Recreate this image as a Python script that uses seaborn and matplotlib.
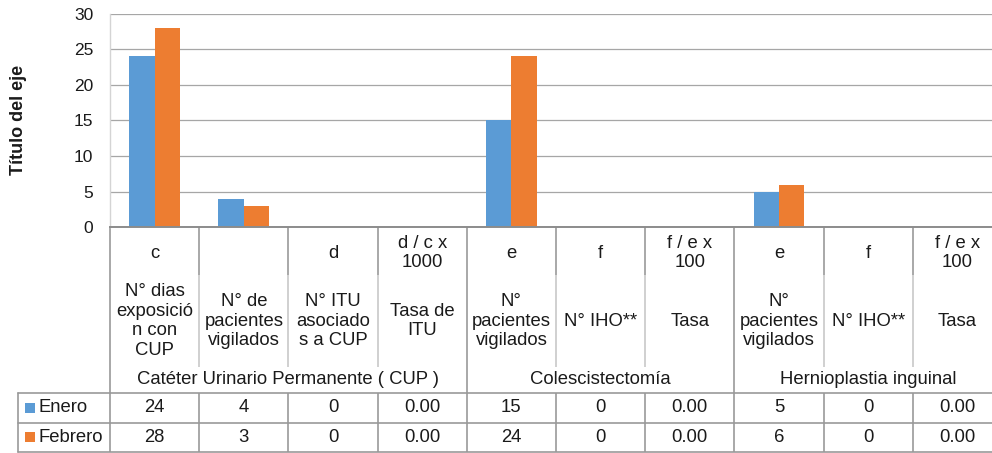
import numpy as np
import pandas as pd
import matplotlib
matplotlib.use('Agg')
import matplotlib.pyplot as plt
import seaborn as sns
from matplotlib.transforms import blended_transform_factory
from matplotlib.patches import Rectangle

sns.set_theme(style='white')
plt.rcParams['font.family'] = ['Liberation Sans', 'DejaVu Sans']

codes = ['c', '', 'd', 'd / c x\n1000', 'e', 'f', 'f / e x\n100', 'e', 'f', 'f / e x\n100']
descs = ['N° dias\nexposició\nn con\nCUP', 'N° de\npacientes\nvigilados', 'N° ITU\nasociado\ns a CUP',
         'Tasa de\nITU', 'N°\npacientes\nvigilados', 'N° IHO**', 'Tasa',
         'N°\npacientes\nvigilados', 'N° IHO**', 'Tasa']
groups = ['Catéter Urinario Permanente ( CUP )', 'Colescistectomía', 'Hernioplastia inguinal']
group_sizes = [4, 3, 3]
series = ['Enero', 'Febrero']
enero = [24, 4, 0, 0, 15, 0, 0, 5, 0, 0]
febrero = [28, 3, 0, 0, 24, 0, 0, 6, 0, 0]
is_rate = [False, False, False, True, False, False, True, False, False, True]

blue = '#5B9BD5'
orange = '#ED7D31'
line_gray = '#999999'
light_line = '#C4C4C4'
txt = '#1A1A1A'

W, H = 992, 453
fig = plt.figure(figsize=(W / 100, H / 100), dpi=100)
x0, x_end = 110, 1002
y_top, y_axis = 13.7, 227.3
ax = fig.add_axes([x0 / W, 1 - y_axis / H, (x_end - x0) / W, (y_axis - y_top) / H])

df = pd.DataFrame({
    'col': list(range(len(codes))) * 2,
    'mes': [series[0]] * len(codes) + [series[1]] * len(codes),
    'valor': enero + febrero,
})
sns.barplot(data=df, x='col', y='valor', hue='mes', palette=[blue, orange], saturation=1,
            width=4 / 7, gap=0, errorbar=None, linewidth=0, ax=ax, legend=False)

ax.set_xlim(-0.5, len(codes) - 0.5)
ax.set_ylim(0, 30)
ax.set_yticks(range(0, 31, 5))
ax.set_xticks([])
ax.set_xlabel('')
ax.set_ylabel('')
ax.yaxis.grid(True, color='#A6A6A6', lw=0.9)
ax.set_axisbelow(True)
ax.tick_params(axis='y', length=0, pad=12, labelsize=12.5, labelcolor=txt)
for sp in ['top', 'right']:
    ax.spines[sp].set_visible(False)
ax.spines['left'].set_color('#D4D4D4')
ax.spines['left'].set_linewidth(1)
ax.spines['bottom'].set_color('#8C8C8C')
ax.spines['bottom'].set_linewidth(1.4)
ax.spines['bottom'].set_zorder(5)

fig.text(18.5 / W, 1 - 120 / H, 'Título del eje', rotation=90, ha='center', va='center',
         fontsize=13, fontweight='bold', color=txt)

# data table under the axis
tr = blended_transform_factory(ax.transData, fig.transFigure)
def fy(px):
    return 1 - px / H

def vline(x, y1, y2, color=line_gray, lw=1.2):
    ax.plot([x, x], [fy(y1), fy(y2)], color=color, lw=lw, transform=tr, clip_on=False,
            solid_capstyle='butt')

group_edges = np.cumsum([0] + group_sizes)
for k in range(len(codes) + 1):
    xb = k - 0.5
    if k in group_edges:
        vline(xb, y_axis, 452)
    else:
        vline(xb, y_axis, 275)
        vline(xb, 275, 367, color=light_line, lw=1.1)
        vline(xb, 393, 452)

for ypx in [393, 423, 452]:
    fig.add_artist(plt.Line2D([18 / W, 1], [fy(ypx), fy(ypx)], color=line_gray, lw=1.2))
fig.add_artist(plt.Line2D([18 / W, 18 / W], [fy(393), fy(452)], color=line_gray, lw=1.2))

fs = 13.3
for i in range(len(codes)):
    ax.text(i, fy(253), codes[i], transform=tr, ha='center', va='center', fontsize=fs, color=txt)
    ax.text(i, fy(321), descs[i], transform=tr, ha='center', va='center', fontsize=fs, color=txt)
    for vals, ypx in [(enero, 408), (febrero, 437)]:
        s = f'{vals[i]:.2f}' if is_rate[i] else f'{vals[i]:d}'
        ax.text(i, fy(ypx), s, transform=tr, ha='center', va='center', fontsize=fs, color=txt)

for g, name in enumerate(groups):
    xc = (group_edges[g] + group_edges[g + 1] - 1) / 2
    ax.text(xc, fy(380), name, transform=tr, ha='center', va='center', fontsize=fs, color=txt)

for name, color, ypx in [(series[0], blue, 408), (series[1], orange, 437)]:
    fig.add_artist(Rectangle((25 / W, fy(ypx + 5)), 10 / W, 10 / H, transform=fig.transFigure,
                             facecolor=color, edgecolor='none'))
    fig.text(38 / W, fy(ypx), name, ha='left', va='center', fontsize=fs, color=txt)

fig.savefig('out.png', dpi=100)
